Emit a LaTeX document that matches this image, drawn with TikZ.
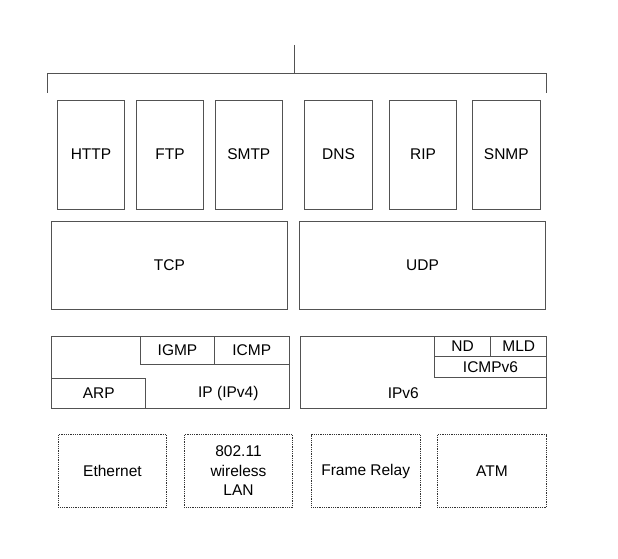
\documentclass[tikz,border=0pt]{standalone}
\usepackage{fontspec}
\setmainfont{Liberation Sans}
\begin{document}
\begin{tikzpicture}[x=1pt,y=-1pt,
  lc/.style={draw=black!68, line width=0.9pt},
  box/.style={lc, rectangle, inner sep=0pt, outer sep=0pt, font=\fontsize{15.5}{19.5}\selectfont, align=center},
  dbox/.style={box, draw=black!80, line width=0.8pt, dash pattern=on 1pt off 0.8pt},
  lbl/.style={inner sep=0pt, font=\fontsize{15.5}{19.5}\selectfont}
]
\useasboundingbox (0,0) rectangle (618,559);
% bracket
\coordinate (stemtop) at (294,45);
\coordinate (stembot) at (294,73);
\coordinate (bl) at (47,73);
\coordinate (bld) at (47,93);
\coordinate (br) at (546.3,73);
\coordinate (brd) at (546.3,93);
\draw[lc] (stemtop) -- (stembot);
\draw[lc] (bld) -- (bl) -- (br) -- (brd);
% application layer
\node[box, minimum width=67.4pt, minimum height=109pt] (http) at (91,154.5) {HTTP};
\node[box, minimum width=67.4pt, minimum height=109pt] (ftp) at (170,154.5) {FTP};
\node[box, minimum width=67pt, minimum height=109pt] (smtp) at (248.8,154.5) {SMTP};
\node[box, minimum width=68.4pt, minimum height=109pt] (dns) at (338.5,154.5) {DNS};
\node[box, minimum width=67.4pt, minimum height=109pt] (rip) at (423,154.5) {RIP};
\node[box, minimum width=68pt, minimum height=109pt] (snmp) at (506.3,154.5) {SNMP};
% transport
\node[box, minimum width=235.3pt, minimum height=87.3pt] (tcp) at (169.4,265.4) {TCP};
\node[box, minimum width=246.4pt, minimum height=87.3pt] (udp) at (422.5,265.4) {UDP};
% IPv4
\node[box, minimum width=237.6pt, minimum height=72.3pt] (ip) at (170.5,372.2) {};
\node[box, minimum width=73.6pt, minimum height=28.7pt] (igmp) at (177.5,350.35) {IGMP};
\node[box, minimum width=75pt, minimum height=28.7pt] (icmp) at (251.8,350.35) {ICMP};
\node[box, minimum width=94pt, minimum height=29.6pt] (arp) at (98.7,393.5) {ARP};
\node[lbl] (ipv4) at (228.3,393) {IP (IPv4)};
% IPv6
\node[box, minimum width=246pt, minimum height=72.3pt] (ipsix) at (423.7,372.2) {};
\node[box, minimum width=56.4pt, minimum height=20pt] (nd) at (462.5,346) {ND};
\node[box, minimum width=56pt, minimum height=20pt] (mld) at (518.7,346) {MLD};
\node[box, minimum width=112.4pt, minimum height=21.7pt] (icmpsix) at (490.5,366.85) {ICMPv6};
\node[lbl] (ipvsix) at (403.3,393) {IPv6};
% link layer
\node[dbox, minimum width=108.4pt, minimum height=72.6pt] (eth) at (112.5,471) {Ethernet};
\node[dbox, minimum width=108.4pt, minimum height=72.6pt] (wlan) at (238.5,471) {802.11\\wireless\\LAN};
\node[dbox, minimum width=108.7pt, minimum height=72.6pt] (fr) at (365.7,471) {Frame Relay};
\node[dbox, minimum width=109.4pt, minimum height=72.6pt] (atm) at (492,471) {ATM};
\end{tikzpicture}
\end{document}
